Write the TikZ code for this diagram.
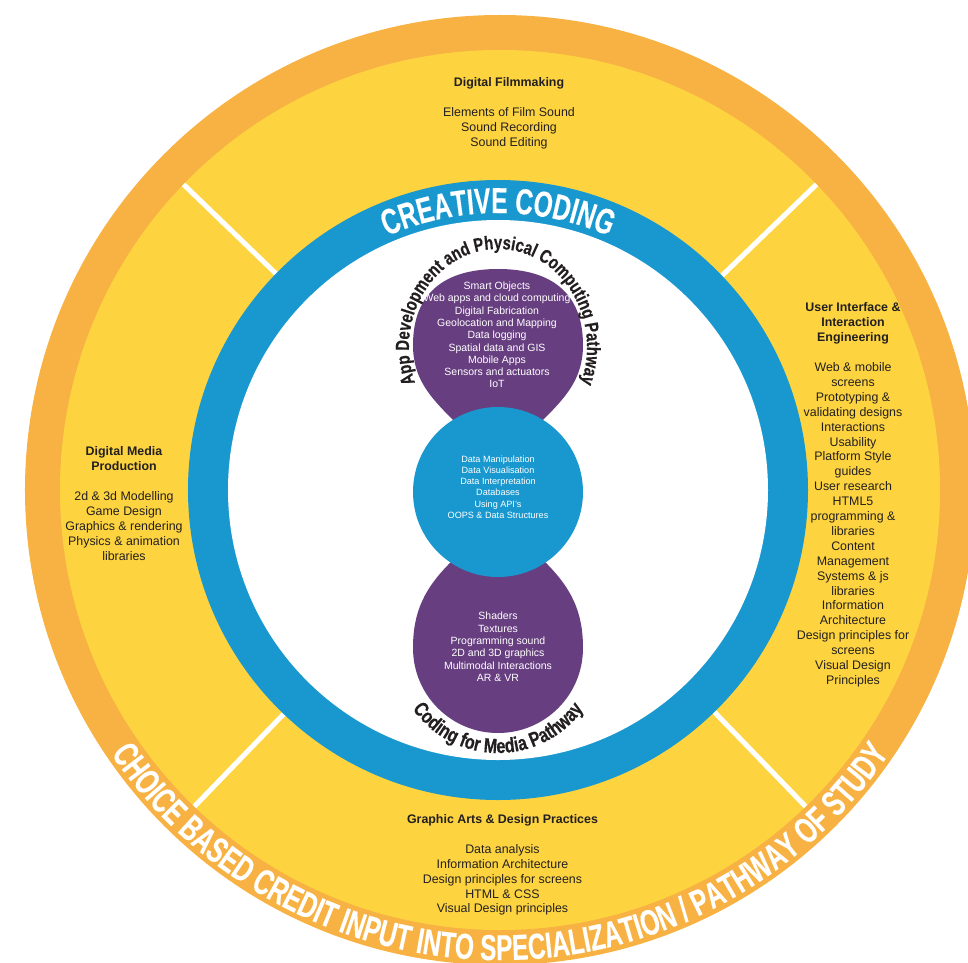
\documentclass[tikz,border=0pt]{standalone}
\usepackage{fontspec}
\setmainfont{Liberation Sans}
\newfontfamily\bandfont[FakeStretch=0.68, BoldFeatures={FakeBold=0.3}]{Liberation Sans}
\newfontfamily\pathfont[FakeStretch=0.78, BoldFeatures={FakeBold=0.4}]{Liberation Sans}
\usetikzlibrary{decorations.text}

\definecolor{ringorange}{HTML}{F7B243}
\definecolor{ringyellow}{HTML}{FDD440}
\definecolor{ringblue}{HTML}{1998CF}
\definecolor{podpurple}{HTML}{673E80}
\definecolor{inkgray}{HTML}{231F20}

\begin{document}
\begin{tikzpicture}[x=1pt,y=1pt]
\tikzset{area/.style={align=center, text=inkgray, font=\fontsize{12.4}{14.9}\selectfont}}
\tikzset{pod/.style={align=center, text=white, font=\fontsize{10.5}{12.3}\selectfont}}
\tikzset{arctext/.style={decorate, decoration={text along path, text align=center, text={#1}}}}
\useasboundingbox (-500,-472) rectangle (468,490);

\coordinate (o) at (0,0);
\coordinate (c) at (-2,0);
\coordinate (mid) at (-2,-2);
\coordinate (bot) at (-2,-158);

% outer rings and the four dividers
\fill[ringorange] (o) circle[radius=475];
\fill[ringyellow] (o) circle[radius=440];
\foreach \a in {44,136,226,314}
  \draw[white, line width=5] (o) ++(\a:305) -- ++(\a:135);
\fill[ringblue] (c) circle[radius=310];
\fill[white] (c) circle[radius=270];

% the two pathway pods, each necked into the core
\path (mid) ++(122:85) coordinate (e1) (mid) ++(58:85) coordinate (e2)
      (mid) ++(236:85) coordinate (e3) (mid) ++(304:85) coordinate (e4);
\coordinate (tl) at (-87,145); \coordinate (tt) at (-2,221); \coordinate (tr) at (83,145);
\coordinate (bl) at (-87,-158); \coordinate (bb) at (-2,-243); \coordinate (br) at (83,-158);
\fill[podpurple] (e1) to[out=135,in=270] (tl) to[out=90,in=180,looseness=1.18] (tt)
  to[out=0,in=90,looseness=1.18] (tr) to[out=270,in=45] (e2) -- cycle;
\fill[podpurple] (e3) to[out=225,in=90] (bl) to[out=270,in=180] (bb)
  to[out=0,in=270] (br) to[out=90,in=315] (e4) -- cycle;
\fill[ringblue] (mid) circle[radius=85];

% curved titles
\path[arctext={|\bandfont\bfseries\fontsize{36}{36}\selectfont\color{white}|CREATIVE CODING}]
  (c) ++(125:277) arc[start angle=125, end angle=55, radius=277];
\path[arctext={|\bandfont\bfseries\fontsize{36}{36}\selectfont\color{white}|CHOICE BASED CREDIT INPUT INTO SPECIALIZATION / PATHWAY OF STUDY}]
  (o) ++(200:470) arc[start angle=200, end angle=340, radius=470];
\path[arctext={|\pathfont\bfseries\fontsize{19}{19}\selectfont\color{inkgray}|App Development and Physical Computing Pathway}]
  (-2,143) ++(210:89 and 98) arc[start angle=210, end angle=-30, x radius=89, y radius=98];
\path[arctext={|\pathfont\bfseries\fontsize{20.5}{20.5}\selectfont\color{inkgray}|Coding for Media Pathway}]
  (bot) ++(200:105) arc[start angle=200, end angle=340, radius=105];

% ring sections
\node[area] (film) at (9,377) {\textbf{Digital Filmmaking}\\[14.9pt]
  Elements of Film Sound\\ Sound Recording\\ Sound Editing};
\node[area] (media) at (-376,-13.5) {\textbf{Digital Media}\\ \textbf{Production}\\[14.9pt]
  2d \& 3d Modelling\\ Game Design\\ Graphics \& rendering\\ Physics \& animation\\ libraries};
\node[area] (uie) at (353,-5) {\textbf{User Interface \&}\\ \textbf{Interaction}\\ \textbf{Engineering}\\[14.9pt]
  Web \& mobile\\ screens\\ Prototyping \&\\ validating designs\\ Interactions\\ Usability\\
  Platform Style\\ guides\\ User research\\ HTML5\\ programming \&\\ libraries\\ Content\\
  Management\\ Systems \& js\\ libraries\\ Information\\ Architecture\\ Design principles for\\
  screens\\ Visual Design\\ Principles};
\node[area] (graphic) at (2.5,-375) {\textbf{Graphic Arts \& Design Practices}\\[14.9pt]
  Data analysis\\ Information Architecture\\ Design principles for screens\\ HTML \& CSS\\ Visual Design principles};

% pods and core
\node[pod] (app) at (-3,155) {Smart Objects\\ Web apps and cloud computing\\ Digital Fabrication\\
  Geolocation and Mapping\\ Data logging\\ Spatial data and GIS\\ Mobile Apps\\ Sensors and actuators\\ IoT};
\node[pod, font=\fontsize{9.1}{11.2}\selectfont] (data) at (-2,3) {Data Manipulation\\ Data Visualisation\\
  Data Interpretation\\ Databases\\ Using API's\\ OOPS \& Data Structures};
\node[pod, font=\fontsize{10.5}{12.4}\selectfont] (coding) at (-2,-157) {Shaders\\ Textures\\ Programming sound\\
  2D and 3D graphics\\ Multimodal Interactions\\ AR \& VR};
\end{tikzpicture}
\end{document}
